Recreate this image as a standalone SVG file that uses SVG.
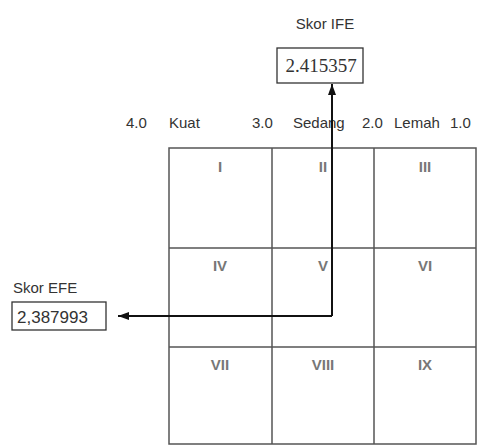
<svg xmlns="http://www.w3.org/2000/svg" width="481" height="445" viewBox="0 0 481 445">
<style>
text{font-family:"Liberation Sans",Arial,sans-serif;fill:#333}
.lbl{font-size:15px}
.rn{font-size:15px;font-weight:bold;fill:#777;text-anchor:middle}
.grid{stroke:#555;stroke-width:1.5;fill:none}
.box{stroke:#333;stroke-width:1.3;fill:#fff}
.con{stroke:#111;stroke-width:2;fill:none}
</style>
<defs>
<marker id="ah" markerWidth="11" markerHeight="8" refX="11" refY="4" orient="auto" markerUnits="userSpaceOnUse">
<path d="M0,0 L11,4 L0,8 Z" fill="#111"/>
</marker>
</defs>
<rect width="481" height="445" fill="#fff"/>
<g id="header">
<text class="lbl" x="126" y="128">4.0</text>
<text class="lbl" x="169" y="128">Kuat</text>
<text class="lbl" x="252" y="128">3.0</text>
<text class="lbl" x="293" y="128">Sedang</text>
<text class="lbl" x="362" y="128">2.0</text>
<text class="lbl" x="394" y="128">Lemah</text>
<text class="lbl" x="450" y="128">1.0</text>
</g>
<g id="matrix">
<rect class="grid" x="169" y="148" width="307" height="296"/>
<line class="grid" x1="272" y1="148" x2="272" y2="444"/>
<line class="grid" x1="374" y1="148" x2="374" y2="444"/>
<line class="grid" x1="169" y1="248" x2="476" y2="248"/>
<line class="grid" x1="169" y1="347" x2="476" y2="347"/>
</g>
<g id="cell-I"><text class="rn" x="220" y="172">I</text></g>
<g id="cell-II"><text class="rn" x="323" y="172">II</text></g>
<g id="cell-III"><text class="rn" x="425" y="172">III</text></g>
<g id="cell-IV"><text class="rn" x="220" y="271">IV</text></g>
<g id="cell-V"><text class="rn" x="323" y="271">V</text></g>
<g id="cell-VI"><text class="rn" x="425" y="271">VI</text></g>
<g id="cell-VII"><text class="rn" x="220" y="370">VII</text></g>
<g id="cell-VIII"><text class="rn" x="323" y="370">VIII</text></g>
<g id="cell-IX"><text class="rn" x="425" y="370">IX</text></g>
<g id="ife">
<text class="lbl" x="325" y="29" text-anchor="middle">Skor IFE</text>
<rect class="box" x="277" y="48" width="86" height="35"/>
<text x="321" y="72" text-anchor="middle" style="font-family:'Liberation Serif',serif;font-size:19px">2.415357</text>
</g>
<g id="efe">
<text class="lbl" x="13" y="293">Skor EFE</text>
<rect class="box" x="12" y="302" width="94" height="28"/>
<text x="17" y="323" style="font-size:17px">2,387993</text>
</g>
<g id="connectors">
<path class="con" d="M332,316 L332,84" marker-end="url(#ah)"/>
<path class="con" d="M332,316 L118,316" marker-end="url(#ah)"/>
</g>
</svg>
